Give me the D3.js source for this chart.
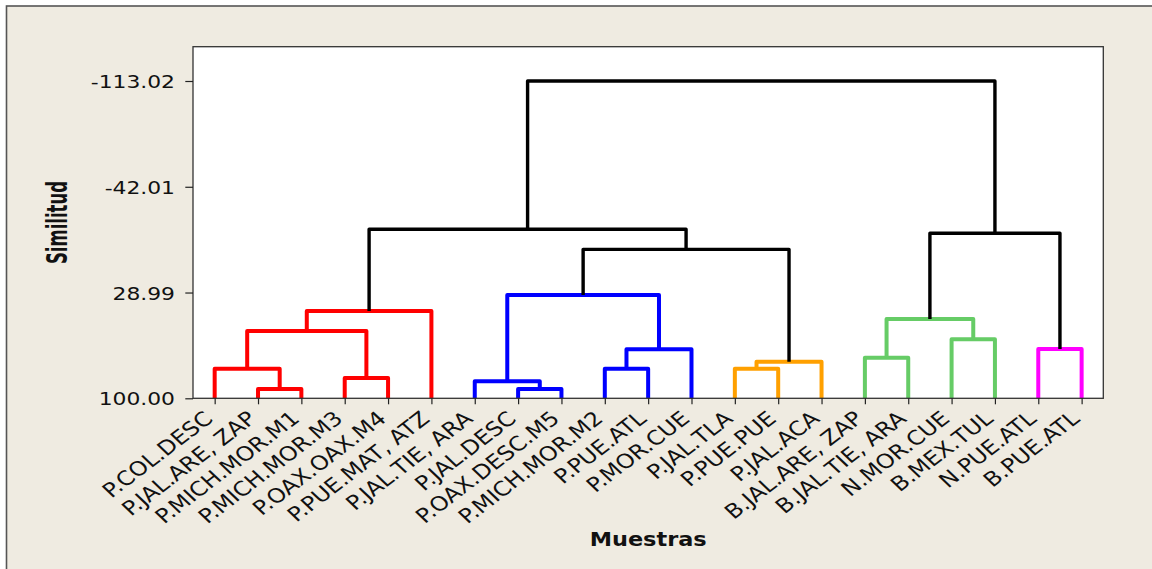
<!DOCTYPE html>
<html>
<head>
<meta charset="utf-8">
<script src="https://cdn.jsdelivr.net/npm/d3@7"></script>
<style>
  html, body { margin: 0; padding: 0; background: #ffffff; }
  svg { display: block; }
</style>
</head>
<body>
<svg id="chart" width="1152" height="569"></svg>
<script>
// Leaf order along the axis
const samples = [
  "P.COL.DESC", "P.JAL.ARE, ZAP", "P.MICH.MOR.M1", "P.MICH.MOR.M3", "P.OAX.OAX.M4",
  "P.PUE.MAT, ATZ", "P.JAL.TIE, ARA", "P.JAL.DESC", "P.OAX.DESC.M5", "P.MICH.MOR.M2",
  "P.PUE.ATL", "P.MOR.CUE", "P.JAL.TLA", "P.PUE.PUE", "P.JAL.ACA",
  "B.JAL.ARE, ZAP", "B.JAL.TIE, ARA", "N.MOR.CUE", "B.MEX.TUL", "N.PUE.ATL", "B.PUE.ATL"
];

// Agglomeration steps: ids < samples.length are leaves, larger ids are earlier merges
const mergeLeft       = [1, 0, 3, 22, 24, 7, 6, 9, 28, 27, 12, 31, 30, 25, 15, 17, 35, 19, 37, 34];
const mergeRight      = [2, 21, 4, 23, 5, 8, 26, 10, 11, 29, 13, 14, 32, 33, 16, 18, 36, 20, 38, 39];
const mergeSimilarity = [93.76, 80.13, 86.37, 54.82, 41.39, 93.76, 88.59, 80.13, 67.10, 30.65,
                         80.13, 75.43, 0.00, -13.46, 72.74, 60.39, 46.76, 66.90, -10.78, -113.02];
const mergeGroup      = ["red", "red", "red", "red", "red", "blue", "blue", "blue", "blue", "blue",
                         "orange", "orange", "none", "none", "green", "green", "green", "magenta", "none", "none"];

const groupColors = {
  red: "#ff0000", blue: "#0000ff", orange: "#ffa000",
  green: "#66cc66", magenta: "#ff00ff", none: "#000000"
};

const yTicks = [-113.02, -42.01, 28.99, 100.00];

// Layout
const plot = { left: 193, top: 46.7, right: 1103.3, bottom: 398.3 };
const textStretch = 1.18;
const svg = d3.select("#chart");

// Outer panel
svg.append("rect")
  .attr("x", 6.5).attr("y", 6)
  .attr("width", 1200).attr("height", 620)
  .attr("fill", "#efebe1")
  .attr("stroke", "#555555")
  .attr("stroke-width", 1.6);

// Data region
svg.append("rect")
  .attr("x", plot.left).attr("y", plot.top)
  .attr("width", plot.right - plot.left).attr("height", plot.bottom - plot.top)
  .attr("fill", "#ffffff");

const x = d3.scalePoint()
  .domain(samples)
  .range([plot.left, plot.right])
  .padding(0.5);

const y = d3.scaleLinear()
  .domain([100, -113.02])
  .range([plot.bottom, 81]);

// Node positions: leaves sit at similarity 100, merges centred over their children
const nodeX = samples.map(s => x(s));
const nodeH = samples.map(() => 100);
mergeLeft.forEach((l, k) => {
  const r = mergeRight[k];
  nodeX.push((nodeX[l] + nodeX[r]) / 2);
  nodeH.push(mergeSimilarity[k]);
});

const links = mergeLeft.map((l, k) => ({
  l, r: mergeRight[k], h: mergeSimilarity[k], group: mergeGroup[k]
}));

svg.append("g")
  .attr("fill", "none")
  .attr("stroke-linejoin", "round")
  .selectAll("path")
  .data(links)
  .join("path")
  .attr("stroke", d => groupColors[d.group])
  .attr("stroke-width", d => d.group === "none" ? 3.4 : 4)
  .attr("d", d => {
    const p = d3.path();
    p.moveTo(nodeX[d.l], y(nodeH[d.l]));
    p.lineTo(nodeX[d.l], y(d.h));
    p.lineTo(nodeX[d.r], y(d.h));
    p.lineTo(nodeX[d.r], y(nodeH[d.r]));
    return p.toString();
  });

// Frame of the data region
svg.append("rect")
  .attr("x", plot.left).attr("y", plot.top)
  .attr("width", plot.right - plot.left).attr("height", plot.bottom - plot.top)
  .attr("fill", "none")
  .attr("stroke", "#333333")
  .attr("stroke-width", 1.3);

// Y axis
const yAxis = svg.append("g")
  .attr("transform", `translate(${plot.left},0)`)
  .call(d3.axisLeft(y).tickValues(yTicks).tickSize(7.7).tickFormat(d => d.toFixed(2)));
yAxis.select(".domain").remove();
yAxis.selectAll(".tick line").attr("stroke", "#222222").attr("stroke-width", 1.2);
yAxis.selectAll(".tick text")
  .attr("x", 0).attr("dy", "0.36em")
  .attr("transform", `translate(-18,0) scale(${textStretch},1)`)
  .attr("text-anchor", "end")
  .attr("fill", "#111111")
  .style("font-family", "'DejaVu Sans', Verdana, sans-serif")
  .style("font-size", "18.5px");

// X axis
const xAxis = svg.append("g")
  .attr("transform", `translate(0,${plot.bottom})`)
  .call(d3.axisBottom(x).tickSize(6));
xAxis.select(".domain").remove();
xAxis.selectAll(".tick line").attr("stroke", "#222222").attr("stroke-width", 1.2);
xAxis.selectAll(".tick text")
  .attr("y", 0).attr("dy", 0)
  .attr("transform", `translate(-1,22) scale(${textStretch},1) rotate(-42)`)
  .attr("text-anchor", "end")
  .attr("fill", "#111111")
  .style("font-family", "'DejaVu Sans', Verdana, sans-serif")
  .style("font-size", "20px");

// Axis titles
svg.append("text")
  .attr("transform", `translate(66.5,${(plot.top + plot.bottom) / 2}) scale(${textStretch},1) rotate(-90)`)
  .attr("text-anchor", "middle")
  .attr("textLength", 83)
  .attr("lengthAdjust", "spacingAndGlyphs")
  .attr("fill", "#111111")
  .style("font-family", "'Liberation Sans Narrow', 'DejaVu Sans Condensed', sans-serif")
  .style("font-weight", "bold")
  .style("font-size", "24px")
  .text("Similitud");

svg.append("text")
  .attr("transform", `translate(${(plot.left + plot.right) / 2},546) scale(${textStretch},1)`)
  .attr("text-anchor", "middle")
  .attr("fill", "#111111")
  .style("font-family", "'DejaVu Sans', Verdana, sans-serif")
  .style("font-weight", "bold")
  .style("font-size", "19px")
  .text("Muestras");
</script>
</body>
</html>
